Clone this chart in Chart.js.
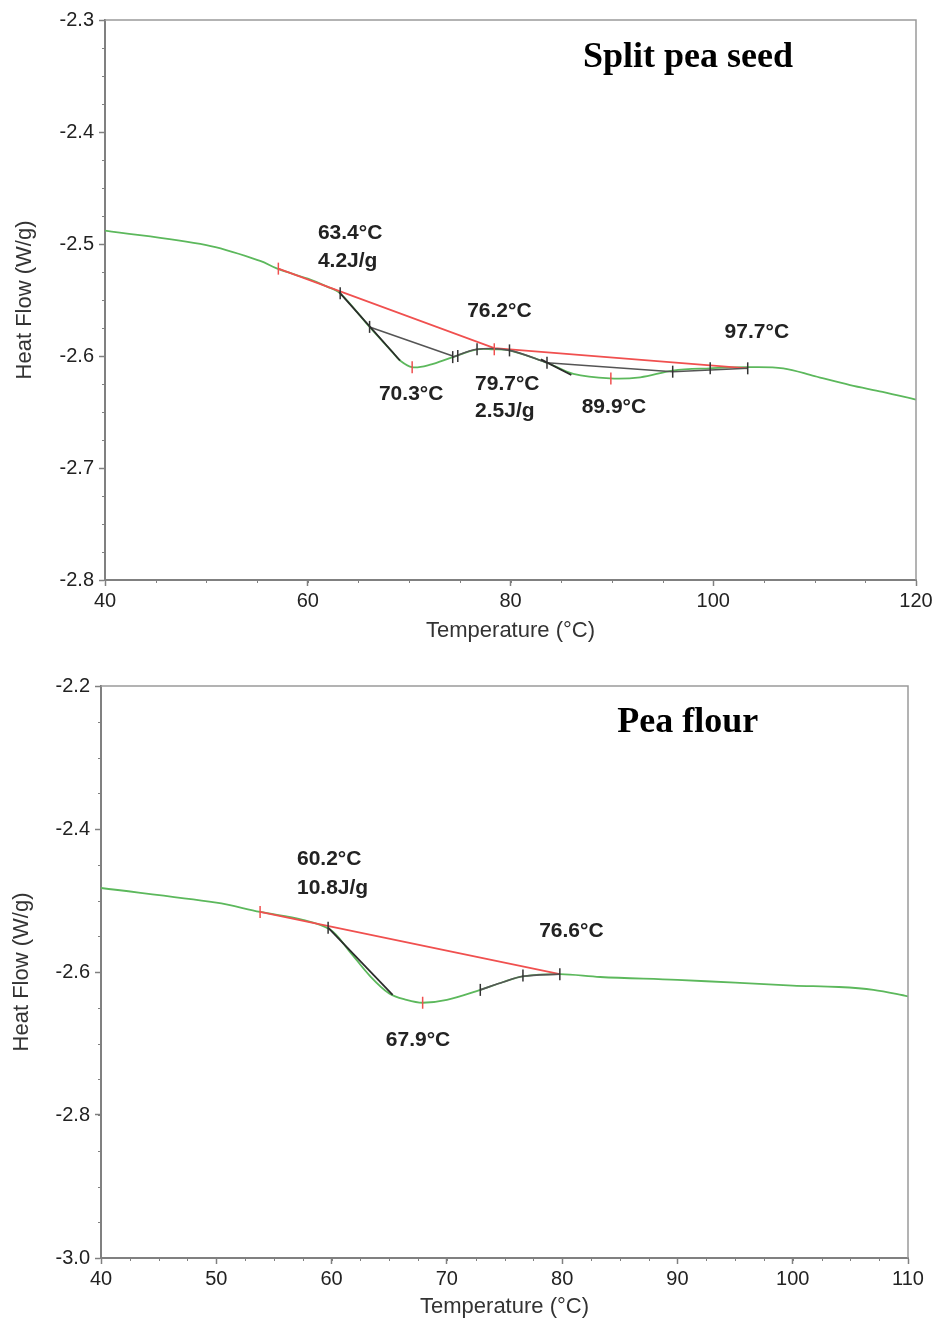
<!DOCTYPE html>
<html>
<head>
<meta charset="utf-8">
<script src="https://cdn.jsdelivr.net/npm/chart.js@4.4.1/dist/chart.umd.min.js"></script>
<style>
html, body { margin: 0; padding: 0; background: #fff; }
#wrap { position: relative; width: 940px; height: 1321px; }
#c1 { position: absolute; left: 0; top: 0; }
#c2 { position: absolute; left: 0; top: 650px; }
</style>
</head>
<body>
<div id="wrap">
  <canvas id="c1" width="940" height="650"></canvas>
  <canvas id="c2" width="940" height="671"></canvas>
</div>
<script>
// ---- split pea seed (top) ----
var seedT  = [40, 50, 55.3, 57, 60, 61.9, 63.2, 66.1, 68.4, 69.1, 70.3, 72, 74.3, 76.7, 78.3, 79.9, 83.6, 86.2, 89.8, 92.8, 96.0, 99.7, 103.3, 106.9, 110, 113.5, 116.7, 120];
var seedHF = [-2.488, -2.501, -2.515, -2.522, -2.531, -2.538, -2.544, -2.574, -2.597, -2.604, -2.610, -2.608, -2.601, -2.594, -2.594, -2.595, -2.606, -2.616, -2.620, -2.619, -2.613, -2.611, -2.610, -2.611, -2.618, -2.626, -2.632, -2.639];
var seedBaseT  = [57.1, 78.4, 103.4];
var seedBaseHF = [-2.522, -2.593, -2.611];
var seedRedMarkT  = [57.1, 70.3, 78.4, 89.9];
var seedRedMarkHF = [-2.522, -2.610, -2.594, -2.620];
var seedBlkMarkT  = [63.2, 66.1, 74.3, 74.8, 76.7, 79.9, 83.6, 96.0, 99.7, 103.4];
var seedBlkMarkHF = [-2.544, -2.574, -2.601, -2.600, -2.594, -2.595, -2.606, -2.614, -2.611, -2.611];
// tangent / integration segments: [T1, HF1, T2, HF2, ...]
var seedTangents = [
  [63.1, -2.543, 69.1, -2.604],
  [83.0, -2.603, 86.0, -2.617]
];
var seedSplits = [
  [66.1, -2.574, 74.3, -2.600],
  [74.3, -2.601, 76.7, -2.594, 79.9, -2.595, 83.6, -2.606],
  [83.6, -2.606, 96.0, -2.614],
  [96.0, -2.614, 103.4, -2.611]
];
var seedXTicks = [40, 120, 20, 5];          // min, max, major, minor
var seedYTicks = [-2.8, -2.3, 0.1, 0.025];
var seedNotes = [
  ['63.4°C', 61.0, -2.490, 'left'],
  ['4.2J/g', 61.0, -2.515, 'left'],
  ['76.2°C', 78.9, -2.560, 'center'],
  ['97.7°C', 104.3, -2.579, 'center'],
  ['70.3°C', 70.2, -2.634, 'center'],
  ['79.7°C', 76.5, -2.625, 'left'],
  ['2.5J/g', 76.5, -2.649, 'left'],
  ['89.9°C', 90.2, -2.646, 'center']
];
var seedTitle = ['Split pea seed', 97.5, -2.334];

// ---- pea flour (bottom) ----
var flourT  = [40, 50, 53.8, 57.5, 59.9, 61.5, 63.3, 65, 66.5, 67.9, 70, 72.9, 74.9, 76.6, 79.8, 83.3, 90, 95, 100, 104, 107, 110];
var flourHF = [-2.4825, -2.503, -2.516, -2.527, -2.541, -2.570, -2.605, -2.630, -2.639, -2.643, -2.639, -2.625, -2.614, -2.606, -2.603, -2.607, -2.611, -2.615, -2.619, -2.621, -2.625, -2.634];
var flourBaseT  = [53.8, 79.8];
var flourBaseHF = [-2.516, -2.603];
var flourRedMarkT  = [53.8, 67.9];
var flourRedMarkHF = [-2.516, -2.643];
var flourBlkMarkT  = [59.7, 72.9, 76.6, 79.8];
var flourBlkMarkHF = [-2.538, -2.625, -2.605, -2.603];
var flourTangents = [
  [59.7, -2.538, 65.3, -2.632]
];
var flourSplits = [
  [72.9, -2.625, 74.9, -2.614, 76.6, -2.606, 79.8, -2.603]
];
var flourXTicks = [40, 110, 10, 2.5];
var flourYTicks = [-3.0, -2.2, 0.2, 0.05];
var flourNotes = [
  ['60.2°C', 57.0, -2.442, 'left'],
  ['10.8J/g', 57.0, -2.4825, 'left'],
  ['76.6°C', 80.8, -2.543, 'center'],
  ['67.9°C', 67.5, -2.695, 'center']
];
var flourTitle = ['Pea flour', 90.9, -2.252];

var AXIS = '#808080';
var TXT = '#222';
var SANS = '"Liberation Sans", Arial, sans-serif';

function pts(xs, ys) {
  var out = [];
  for (var i = 0; i < xs.length; i++) out.push({x: xs[i], y: ys[i]});
  return out;
}
function segPts(seg) {
  var out = [];
  for (var i = 0; i < seg.length; i += 2) out.push({x: seg[i], y: seg[i + 1]});
  return out;
}

function notesPlugin(notes, title, xt, yt) {
  return {
    id: 'notes',
    afterDraw: function(chart) {
      var ctx = chart.ctx, xs = chart.scales.x, ys = chart.scales.y, a = chart.chartArea;
      ctx.save();
      // frame top/right
      ctx.strokeStyle = '#9a9a9a';
      ctx.lineWidth = 1.5;
      ctx.beginPath();
      ctx.moveTo(a.left, a.top); ctx.lineTo(a.right, a.top); ctx.lineTo(a.right, a.bottom);
      ctx.stroke();
      // minor ticks
      ctx.strokeStyle = AXIS;
      ctx.lineWidth = 1;
      ctx.beginPath();
      for (var v = xt[0]; v <= xt[1] + 1e-9; v += xt[3]) {
        var px = Math.round(xs.getPixelForValue(v)) + 0.5;
        ctx.moveTo(px, a.bottom); ctx.lineTo(px, a.bottom + 3);
      }
      for (var w = yt[0]; w <= yt[1] + 1e-9; w += yt[3]) {
        var py = Math.round(ys.getPixelForValue(w)) + 0.5;
        ctx.moveTo(a.left, py); ctx.lineTo(a.left - 3, py);
      }
      ctx.stroke();
      // annotations
      ctx.fillStyle = TXT;
      ctx.font = 'bold 21px ' + SANS;
      ctx.textBaseline = 'middle';
      notes.forEach(function(n) {
        ctx.textAlign = n[3];
        ctx.fillText(n[0], xs.getPixelForValue(n[1]), ys.getPixelForValue(n[2]));
      });
      ctx.fillStyle = '#000';
      ctx.font = 'bold 36px "Liberation Serif", "Times New Roman", serif';
      ctx.textAlign = 'center';
      ctx.fillText(title[0], xs.getPixelForValue(title[1]), ys.getPixelForValue(title[2]));
      ctx.restore();
    }
  };
}

function makeChart(id, g) {
  var datasets = [];
  datasets.push({
    data: pts(g.T, g.HF), borderColor: '#5cb85c', borderWidth: 1.8,
    showLine: true, pointRadius: 0, tension: 0.35, order: 5
  });
  g.tangents.forEach(function(s) {
    datasets.push({ data: segPts(s), borderColor: '#2b2b2b', borderWidth: 1.8,
      showLine: true, pointRadius: 0, order: 3 });
  });
  g.splits.forEach(function(s) {
    datasets.push({ data: segPts(s), borderColor: '#555', borderWidth: 1.6,
      showLine: true, pointRadius: 0, tension: 0.3, order: 3 });
  });
  datasets.push({
    data: pts(g.baseT, g.baseHF), borderColor: '#f0504f', borderWidth: 1.8,
    showLine: true, pointRadius: 0, order: 4
  });
  datasets.push({
    data: pts(g.redT, g.redHF), showLine: false, pointStyle: 'line', rotation: 90,
    pointRadius: 6, borderColor: '#f0504f', borderWidth: 1.5, order: 1
  });
  datasets.push({
    data: pts(g.blkT, g.blkHF), showLine: false, pointStyle: 'line', rotation: 90,
    pointRadius: 6, borderColor: '#333', borderWidth: 1.5, order: 1
  });

  var tickFont = { family: SANS, size: 20 };
  var titleFont = { family: SANS, size: 22 };
  return new Chart(document.getElementById(id), {
    type: 'scatter',
    data: { datasets: datasets },
    options: {
      responsive: false,
      animation: false,
      events: [],
      layout: { padding: { top: g.padTop, right: g.padRight, left: 0, bottom: 0 } },
      plugins: { legend: { display: false }, tooltip: { enabled: false } },
      scales: {
        x: {
          type: 'linear', min: g.xt[0], max: g.xt[1],
          afterFit: function(s) { s.height = g.xH; },
          border: { display: true, color: AXIS, width: 2 },
          grid: { drawOnChartArea: false, drawTicks: true, tickLength: 6, color: AXIS, tickWidth: 1.5 },
          ticks: { stepSize: g.xt[2], color: TXT, font: tickFont, padding: 3, maxRotation: 0,
            callback: function(v) { return String(Math.round(v)); } },
          title: { display: true, text: 'Temperature (°C)', color: '#333',
            font: titleFont, padding: g.xTitlePad }
        },
        y: {
          type: 'linear', min: g.yt[0], max: g.yt[1],
          afterFit: function(s) { s.width = g.yW; },
          border: { display: true, color: AXIS, width: 2 },
          grid: { drawOnChartArea: false, drawTicks: true, tickLength: 6, color: AXIS, tickWidth: 1.5 },
          ticks: { stepSize: g.yt[2], color: TXT, font: tickFont, padding: 5,
            callback: function(v) { return v.toFixed(1); } },
          title: { display: true, text: 'Heat Flow (W/g)', color: '#333',
            font: titleFont, padding: g.yTitlePad }
        }
      }
    },
    plugins: [notesPlugin(g.notes, g.title, g.xt, g.yt)]
  });
}

makeChart('c1', {
  T: seedT, HF: seedHF, baseT: seedBaseT, baseHF: seedBaseHF,
  redT: seedRedMarkT, redHF: seedRedMarkHF, blkT: seedBlkMarkT, blkHF: seedBlkMarkHF,
  tangents: seedTangents, splits: seedSplits, xt: seedXTicks, yt: seedYTicks,
  notes: seedNotes, title: seedTitle,
  padTop: 20, padRight: 24, yW: 105, xH: 70, xTitlePad: 6, yTitlePad: 12
});
makeChart('c2', {
  T: flourT, HF: flourHF, baseT: flourBaseT, baseHF: flourBaseHF,
  redT: flourRedMarkT, redHF: flourRedMarkHF, blkT: flourBlkMarkT, blkHF: flourBlkMarkHF,
  tangents: flourTangents, splits: flourSplits, xt: flourXTicks, yt: flourYTicks,
  notes: flourNotes, title: flourTitle,
  padTop: 36, padRight: 32, yW: 101, xH: 63, xTitlePad: 1, yTitlePad: 9
});
</script>
</body>
</html>
